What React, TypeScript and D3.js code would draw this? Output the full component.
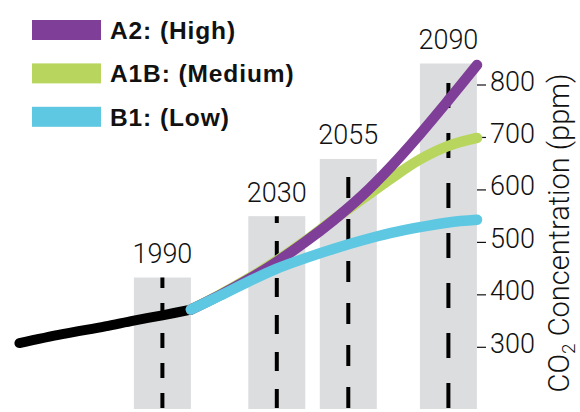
import React from 'react';
import * as d3 from 'd3';

// observed CO2 (ppm)
const histYears = [1940, 1955, 1970, 1980, 1990, 2000];
const histCo2 = [308, 325, 340, 351, 361, 372];

// scenario projections (ppm)
const projYears = [2000, 2010, 2020, 2030, 2040, 2050, 2060, 2070, 2080, 2090, 2100];
const a2High = [372, 399, 429, 463, 501, 543, 590, 645, 706, 771, 838];
const a1bMedium = [372, 400, 431, 465, 503, 544, 583, 622, 658, 684, 699];
const b1Low = [372, 398, 425, 450, 470, 488, 504, 518, 529, 538, 543];

// snapshot bars
const barYears = [1990, 2030, 2055, 2090];
const barTops = [433, 550, 659, 841];

const yTicks = [300, 400, 500, 600, 700, 800];

const seriesNames = ['A2: (High)', 'A1B: (Medium)', 'B1: (Low)'];
const seriesColors = ['#7f3f98', '#b8d65e', '#5ec8e2'];

const W = 580;
const H = 412;
const plotBottom = 409;
const barWidth = 57;
const barDashes = ['15 15', '19 18', '21 21', '25 25'];
const lightFont = 'Roboto, "Liberation Sans", Arial, sans-serif';

export default function App() {
  const x = d3.scaleLinear().domain([1990, 2090]).range([162.4, 448.4]);
  const y = d3.scaleLinear().domain([300, 800]).range([347.3, 85]);

  const line = d3
    .line<[number, number]>()
    .x((d) => x(d[0]))
    .y((d) => y(d[1]))
    .curve(d3.curveCatmullRom.alpha(0.5));

  const hist = line(histYears.map((yr, i) => [yr, histCo2[i]]) as [number, number][]) ?? '';
  const proj = [a2High, a1bMedium, b1Low].map(
    (vals) => line(projYears.map((yr, i) => [yr, vals[i]]) as [number, number][]) ?? ''
  );
  // draw order: green under purple, cyan on top
  const drawOrder = [1, 0, 2];
  const axisX = x(2100);

  return (
    <svg width={W} height={H} style={{ position: 'absolute', left: 0, top: 0 }}>
      {/* bars with dashed centre lines */}
      {barYears.map((yr, i) => {
        const cx = x(yr);
        const top = y(barTops[i]);
        return (
          <g key={`bar-${yr}`}>
            <rect x={cx - barWidth / 2} y={top} width={barWidth} height={plotBottom - top} fill="#dcdddf" />
            <line
              x1={cx}
              x2={cx}
              y1={plotBottom - 1}
              y2={top}
              stroke="#000"
              strokeWidth={4}
              strokeDasharray={barDashes[i]}
            />
            <text
              x={cx}
              y={top - 14.5}
              textAnchor="middle"
              fontFamily={lightFont}
              fontWeight={300}
              fontSize={27}
              fill="#111"
            >
              {yr}
            </text>
          </g>
        );
      })}

      {/* y axis ticks */}
      {yTicks.map((t) => (
        <g key={`tick-${t}`}>
          <line x1={axisX} x2={axisX + 9} y1={y(t)} y2={y(t)} stroke="#111" strokeWidth={1.2} />
          <text x={axisX + 13} y={y(t) + 5.5} fontFamily={lightFont} fontWeight={300} fontSize={27} fill="#111">
            {t}
          </text>
        </g>
      ))}

      <text
        transform={`translate(569, 233) rotate(-90)`}
        textAnchor="middle"
        fontFamily={lightFont}
        fontWeight={300}
        fontSize={29}
        fill="#111"
      >
        CO
        <tspan dy={6} fontSize={19}>2</tspan>
        <tspan dy={-6}> Concentration (ppm)</tspan>
      </text>

      {/* curves */}
      <path d={hist} fill="none" stroke="#000" strokeWidth={10} strokeLinecap="round" />
      {drawOrder.map((i) => (
        <path
          key={`proj-${i}`}
          d={proj[i]}
          fill="none"
          stroke={seriesColors[i]}
          strokeWidth={10.5}
          strokeLinecap="round"
        />
      ))}

      {/* legend */}
      {seriesNames.map((name, i) => {
        const cy = 30 + i * 43.4;
        return (
          <g key={`leg-${name}`}>
            <rect x={32} y={cy - 10} width={69} height={20} fill={seriesColors[i]} />
            <text
              x={110}
              y={cy + 8.8}
              fontFamily='"Liberation Sans", Arial, sans-serif'
              fontWeight={700}
              fontSize={24.5}
              letterSpacing={0.9}
              fill="#111"
            >
              {name}
            </text>
          </g>
        );
      })}
    </svg>
  );
}
